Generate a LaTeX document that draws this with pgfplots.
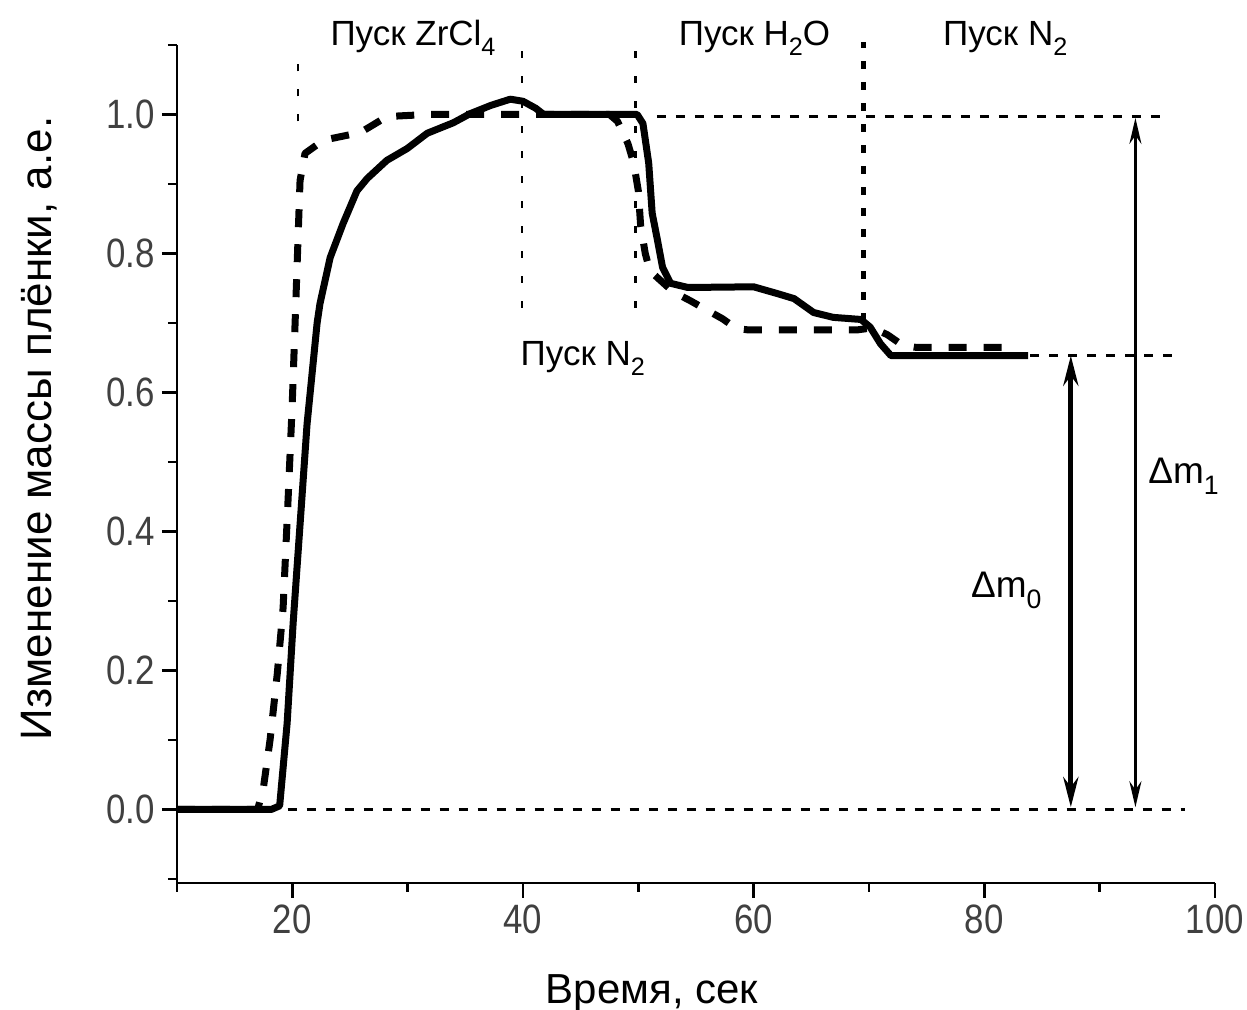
\documentclass[border=0pt]{standalone}
\usepackage{fontspec}
\setmainfont{Liberation Sans}
\newfontfamily\tickfont[FakeStretch=0.85]{Liberation Sans}
\usepackage{graphicx}
\usepackage{pgfplots}
\pgfplotsset{compat=1.18}
\usetikzlibrary{arrows.meta}
\newcommand\sub[1]{\raisebox{-0.55ex}{\scalebox{0.72}{#1}}}

\begin{document}
\begin{tikzpicture}
\path[use as bounding box] (-88.5pt,-63.5pt) rectangle (535pt,441.5pt);
\begin{axis}[
  at={(0,0)}, anchor=south west, scale only axis,
  width=519pt, height=419pt,
  xmin=10, xmax=100, ymin=-0.106, ymax=1.1,
  axis x line*=bottom, axis y line*=left,
  axis line style={line width=1.2pt, -},
  xtick={20,40,60,80,100}, minor xtick={10,30,50,70,90},
  ytick={0,0.2,0.4,0.6,0.8,1.0}, minor ytick={-0.1,0.1,0.3,0.5,0.7,0.9,1.1},
  tick align=outside,
  major tick length=7.5pt, minor tick length=4.5pt,
  every tick/.append style={black, line width=1.2pt},
  tick label style={font=\tickfont\fontsize{20.5}{20}\selectfont, text=black!75},
  /pgf/number format/assume math mode=true,
  yticklabel style={/pgf/number format/.cd, fixed, fixed zerofill, precision=1},
  clip=false,
]
% reference dashed lines
\addplot[forget plot, black, line width=1.2pt, dash pattern=on 4.5pt off 5pt] coordinates {(19.6,0) (97.4,0)};
\addplot[forget plot, black, line width=1.2pt, dash pattern=on 4.5pt off 5pt] coordinates {(51.6,0.997) (95.6,0.997)};
\addplot[forget plot, black, line width=1.2pt, dash pattern=on 4.5pt off 5pt] coordinates {(84.0,0.653) (97.0,0.653)};
% vertical dotted lines
\addplot[forget plot, black, line width=1.2pt, dash pattern=on 3.5pt off 9pt] coordinates {(20.5,0.99) (20.5,1.095)};
\addplot[forget plot, black, line width=1.2pt, dash pattern=on 3.5pt off 9pt] coordinates {(39.9,0.722) (39.9,1.095)};
\addplot[forget plot, black, line width=1.2pt, dash pattern=on 3.5pt off 9pt] coordinates {(49.75,0.722) (49.75,1.095)};
\addplot[forget plot, black, line width=2.5pt, dash pattern=on 4pt off 6.5pt] coordinates {(69.5,0.703) (69.5,1.104)};
% dashed curve
\addplot[black, line width=3.5pt, dash pattern=on 9pt off 8.5pt, line join=round] coordinates {
(10,0) (17.0,0) (17.5,0.032) (18.07,0.1) (18.7,0.196) (19.2,0.29) (19.6,0.434) (19.98,0.578)
(20.24,0.7) (20.67,0.905) (21.1,0.944) (22.7,0.963) (25.9,0.974) (28.2,0.997) (31.7,1.0)
(47.5,1.0) (48.2,0.99) (49.1,0.958) (49.6,0.93) (50.0,0.89) (50.2,0.84) (50.6,0.80) (51.0,0.775)
(53.0,0.745) (54.5,0.732) (56.0,0.718) (57.3,0.706) (58.5,0.692) (59.5,0.69) (69.0,0.69)
(70.3,0.693) (71.6,0.683) (72.9,0.668) (74,0.665) (82.3,0.665)};
% solid curve
\addplot[black, line width=3.5pt, line join=round] coordinates {
(10,0) (18.2,0) (18.9,0.005) (19.55,0.124) (20.07,0.268) (20.67,0.41) (21.28,0.555) (22.15,0.70)
(22.4,0.728) (23.28,0.794) (24.4,0.843) (25.6,0.89) (26.5,0.908) (28.2,0.934) (29.96,0.951)
(31.7,0.973) (33.95,0.988) (35.4,1.001) (37.2,1.013) (38.9,1.022) (40.0,1.019) (41.1,1.009)
(41.8,1.0) (49.9,1.0) (50.4,0.987) (50.9,0.93) (51.2,0.858) (51.66,0.819) (52.1,0.78)
(52.8,0.757) (54.3,0.751) (60.0,0.752) (62.1,0.742) (63.5,0.735) (65.2,0.715) (66.9,0.708)
(69.3,0.705) (70.1,0.694) (71.0,0.67) (71.9,0.653) (83.8,0.653)};
% arrows
\addplot[forget plot, black, line width=2.5pt, {Stealth[length=15pt,width=7.5pt]}-{Stealth[length=15pt,width=7.5pt]}] coordinates {(87.5,0.003) (87.5,0.653)};
\addplot[forget plot, black, line width=1.5pt, {Stealth[length=13pt,width=6pt]}-{Stealth[length=13pt,width=6pt]}] coordinates {(93.1,0.003) (93.1,0.995)};
% labels
\node[anchor=base west, inner sep=0pt, font=\fontsize{17.5}{18}\selectfont] at (axis cs:23.28,1.099) {Пуск ZrCl\sub{4}};
\node[anchor=base west, inner sep=0pt, font=\fontsize{17.5}{18}\selectfont] at (axis cs:53.48,1.099) {Пуск H\sub{2}O};
\node[anchor=base west, inner sep=0pt, font=\fontsize{17.5}{18}\selectfont] at (axis cs:76.4,1.099) {Пуск N\sub{2}};
\node[anchor=base west, inner sep=0pt, font=\fontsize{17.5}{18}\selectfont] at (axis cs:39.77,0.639) {Пуск N\sub{2}};
\node[anchor=base west, inner sep=0pt, font=\fontsize{18.5}{18}\selectfont] at (axis cs:78.82,0.305) {Δm\sub{0}};
\node[anchor=base west, inner sep=0pt, font=\fontsize{18.5}{18}\selectfont] at (axis cs:94.19,0.469) {Δm\sub{1}};
\node[anchor=base west, inner sep=0pt, font=\fontsize{21}{21}\selectfont] at (axis cs:41.94,-0.279) {Время, сек};
\node[anchor=base west, inner sep=0pt, rotate=90, font=\fontsize{22}{22}\selectfont] at (axis cs:-0.85,0.099) {Изменение массы плёнки, а.е.};
\end{axis}
\end{tikzpicture}
\end{document}
